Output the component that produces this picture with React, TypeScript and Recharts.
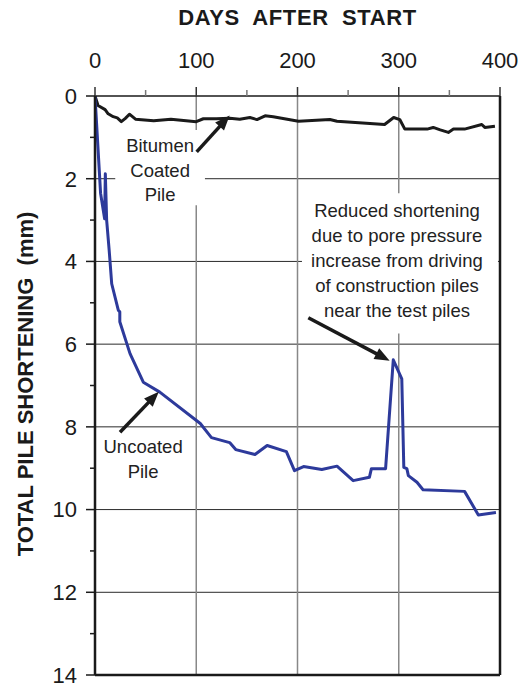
import {
  LineChart,
  Line,
  XAxis,
  YAxis,
  CartesianGrid,
  ReferenceLine,
  ReferenceArea,
} from 'recharts';

// Axis ticks
const X_MAJOR = [0, 100, 200, 300, 400];
const X_MINOR = [50, 150, 250, 350];
const Y_MAJOR = [0, 2, 4, 6, 8, 10, 12, 14];
const Y_MINOR = [1, 3, 5, 7, 9, 11, 13];

// Bitumen coated pile (days after start / shortening in mm)
const bitumenDays = [
  0, 3, 10, 13, 18, 22, 26, 30, 34, 40, 58, 75, 100, 107, 120, 133, 143, 153, 160, 168, 176,
  201, 232, 239, 286, 295, 301, 306, 328, 334, 341, 349, 354, 365, 382, 385, 395,
];
const bitumenShortening = [
  0, 0.23, 0.33, 0.43, 0.5, 0.53, 0.62, 0.54, 0.44, 0.56, 0.6, 0.56, 0.62, 0.55, 0.55, 0.54,
  0.56, 0.52, 0.57, 0.48, 0.5, 0.61, 0.57, 0.61, 0.69, 0.52, 0.57, 0.8, 0.8, 0.76, 0.82, 0.88,
  0.8, 0.8, 0.69, 0.76, 0.73,
];

// Uncoated pile
const uncoatedDays = [
  0, 5.5, 9.5, 10.2, 11.5, 14, 16.5, 23, 24.5, 24.5, 34.6, 47.7, 64, 104, 115, 133, 139, 158,
  170, 189, 197, 206, 224, 239, 255, 271, 273, 287, 294.6, 303, 305, 308, 309.5, 318, 324, 365,
  378.6, 396,
];
const uncoatedShortening = [
  0, 2.35, 2.97, 1.88, 3.0, 3.73, 4.54, 5.18, 5.22, 5.46, 6.23, 6.92, 7.16, 7.92, 8.26, 8.38,
  8.55, 8.67, 8.45, 8.6, 9.06, 8.96, 9.03, 8.95, 9.3, 9.22, 9.01, 9.01, 6.38, 6.84, 8.98, 9.01,
  9.18, 9.34, 9.52, 9.56, 10.13, 10.07,
];

const bitumenData = bitumenDays.map((d, i) => ({ d, v: bitumenShortening[i] }));
const uncoatedData = uncoatedDays.map((d, i) => ({ d, v: uncoatedShortening[i] }));

const FONT = '"Liberation Sans", Arial, sans-serif';
const INK = '#1a1a1a';
const BLUE = '#2d3a9b';

function XTick(props: any) {
  const { x, y, payload } = props;
  const major = X_MAJOR.includes(payload.value);
  return (
    <g>
      <line x1={x} x2={x} y1={y - (major ? 9 : 6)} y2={y} stroke={major ? '#333' : '#777'} strokeWidth={1.5} />
      {major && (
        <text x={x} y={y - 28} textAnchor="middle" fontSize={22} fill={INK} fontFamily={FONT}>
          {payload.value}
        </text>
      )}
    </g>
  );
}

function YTick(props: any) {
  const { x, y, payload } = props;
  const major = Y_MAJOR.includes(payload.value);
  return (
    <g>
      <line x1={x - (major ? 9 : 5)} x2={x} y1={y} y2={y} stroke={INK} strokeWidth={1.5} />
      {major && (
        <text x={x - 18} y={y} dy="0.36em" textAnchor="end" fontSize={22} fill={INK} fontFamily={FONT}>
          {payload.value}
        </text>
      )}
    </g>
  );
}

function Arrow(props: any) {
  const { x1, y1, x2, y2 } = props;
  const dx = x2 - x1;
  const dy = y2 - y1;
  const len = Math.hypot(dx, dy) || 1;
  const ux = dx / len;
  const uy = dy / len;
  const head = 15;
  const half = 6;
  const bx = x2 - ux * head;
  const by = y2 - uy * head;
  return (
    <g>
      <line x1={x1} y1={y1} x2={bx + ux * 2} y2={by + uy * 2} stroke={INK} strokeWidth={3.5} />
      <polygon
        points={`${x2},${y2} ${bx - uy * half},${by + ux * half} ${bx + uy * half},${by - ux * half}`}
        fill={INK}
      />
    </g>
  );
}

// multi-line note drawn inside a reference area
function note(lines: string[], first: number, gap: number, shift = 0) {
  return (props: any) => {
    const vb = props.viewBox;
    if (!vb) return null;
    const cx = vb.x + vb.width / 2 + shift;
    return (
      <g>
        {lines.map((t, i) => (
          <text
            key={t}
            x={cx}
            y={vb.y + first + i * gap}
            textAnchor="middle"
            fontSize={18.5}
            fill="#222"
            fontFamily={FONT}
          >
            {t}
          </text>
        ))}
      </g>
    );
  };
}

export default function App() {
  return (
    <div style={{ position: 'absolute', left: 0, top: 0, width: 530, height: 688, background: '#fff' }}>
      <LineChart
        width={530}
        height={688}
        margin={{ top: 56, right: 30, bottom: 13, left: 50 }}
        style={{ fontFamily: FONT }}
      >
        <CartesianGrid horizontal vertical={false} horizontalValues={[2, 4, 6, 8, 10, 12]} stroke="#2a2a2a" strokeWidth={1} />
        <CartesianGrid horizontal={false} vertical verticalValues={[100, 200, 300]} stroke="#888" strokeWidth={1.5} />
        <XAxis
          dataKey="d"
          type="number"
          orientation="top"
          domain={[0, 400]}
          ticks={[...X_MAJOR, ...X_MINOR].sort((a, b) => a - b)}
          interval={0}
          height={40}
          tickLine={false}
          tickSize={0}
          tickMargin={0}
          axisLine={{ stroke: INK, strokeWidth: 1.5 }}
          tick={<XTick />}
          allowDataOverflow
        />
        <YAxis
          type="number"
          reversed
          domain={[0, 14]}
          ticks={[...Y_MAJOR, ...Y_MINOR].sort((a, b) => a - b)}
          interval={0}
          width={45}
          tickLine={false}
          tickSize={0}
          tickMargin={0}
          axisLine={{ stroke: INK, strokeWidth: 2.5 }}
          tick={<YTick />}
          allowDataOverflow
        />
        <ReferenceArea
          x1={20}
          x2={108.6}
          y1={0.82}
          y2={2.64}
          fill="#fff"
          fillOpacity={1}
          stroke="none"
          label={note(['Bitumen', 'Coated', 'Pile'], 22.5, 24.5)}
        />
        <ReferenceArea
          x1={204.4}
          x2={398}
          y1={2.35}
          y2={5.74}
          fill="#fff"
          fillOpacity={1}
          stroke="none"
          label={note(
            [
              'Reduced shortening',
              'due to pore pressure',
              'increase from driving',
              'of construction piles',
              'near the test piles',
            ],
            23.7,
            25.1,
            -3,
          )}
        />
        <ReferenceArea
          x1={10}
          x2={85}
          y1={8.3}
          y2={9.3}
          fill="none"
          stroke="none"
          label={note(['Uncoated', 'Pile'], 13.5, 25)}
        />
        <ReferenceLine x={400} stroke={INK} strokeWidth={2.5} />
        <ReferenceLine y={14} stroke={INK} strokeWidth={2.5} />
        <Line
          data={bitumenData}
          dataKey="v"
          type="linear"
          stroke={INK}
          strokeWidth={3}
          strokeLinejoin="round"
          dot={false}
          isAnimationActive={false}
        />
        <Line
          data={uncoatedData}
          dataKey="v"
          type="linear"
          stroke={BLUE}
          strokeWidth={3}
          strokeLinejoin="round"
          dot={false}
          isAnimationActive={false}
        />
        <ReferenceLine segment={[{ x: 100.4, y: 1.35 }, { x: 133, y: 0.47 }]} shape={<Arrow />} />
        <ReferenceLine segment={[{ x: 24.7, y: 8.13 }, { x: 63, y: 7.15 }]} shape={<Arrow />} />
        <ReferenceLine segment={[{ x: 210.7, y: 5.36 }, { x: 291, y: 6.4 }]} shape={<Arrow />} />
      </LineChart>
      <svg
        width={530}
        height={688}
        style={{ position: 'absolute', left: 0, top: 0, pointerEvents: 'none' }}
      >
        <text
          x={297.5}
          y={25}
          textAnchor="middle"
          fontSize={22}
          fontWeight="bold"
          letterSpacing={0.6}
          fill={INK}
          fontFamily={FONT}
          style={{ whiteSpace: 'pre' }}
        >
          {'DAYS  AFTER  START'}
        </text>
        <text
          transform="rotate(-90)"
          x={-384}
          y={33}
          textAnchor="middle"
          fontSize={22}
          fontWeight="bold"
          fill={INK}
          fontFamily={FONT}
          style={{ whiteSpace: 'pre' }}
        >
          {'TOTAL PILE SHORTENING  (mm)'}
        </text>
      </svg>
    </div>
  );
}
